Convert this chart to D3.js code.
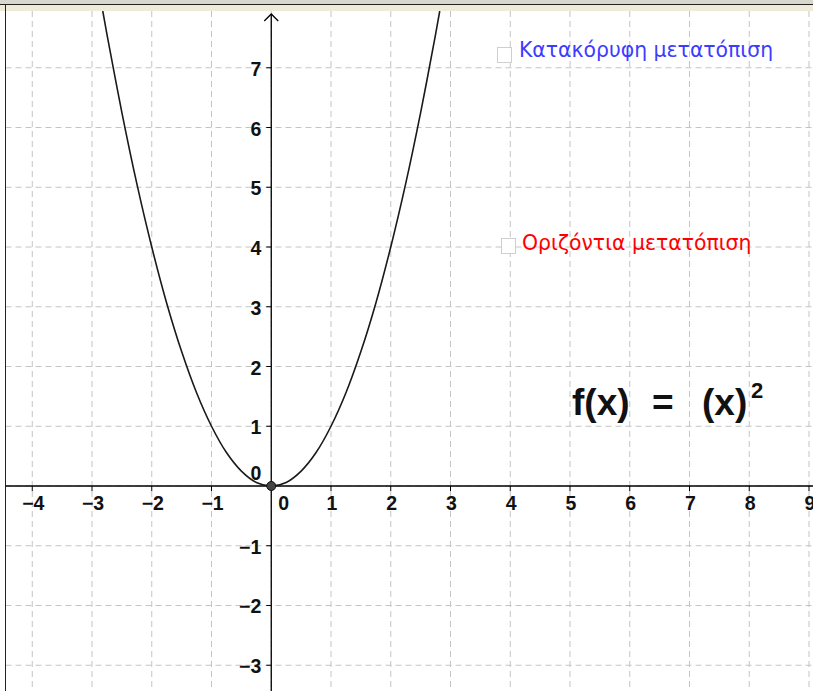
<!DOCTYPE html>
<html>
<head>
<meta charset="utf-8">
<script src="https://cdn.jsdelivr.net/npm/d3@7"></script>
<style>
  html, body { margin: 0; padding: 0; background: #fff; }
  svg { display: block; }
</style>
</head>
<body>
<svg id="chart" width="813" height="691"></svg>
<script>
// values
const xTicks = [-4, -3, -2, -1, 1, 2, 3, 4, 5, 6, 7, 8, 9];
const yTicks = [-3, -2, -1, 1, 2, 3, 4, 5, 6, 7];
const curveX = [-2.82, -2.75, -2.5, -2.25, -2, -1.75, -1.5, -1.25, -1, -0.75, -0.5, -0.25, 0,
                0.25, 0.5, 0.75, 1, 1.25, 1.5, 1.75, 2, 2.25, 2.5, 2.75, 2.82];
const curveY = [7.95, 7.56, 6.25, 5.06, 4, 3.06, 2.25, 1.56, 1, 0.56, 0.25, 0.06, 0,
                0.06, 0.25, 0.56, 1, 1.56, 2.25, 3.06, 4, 5.06, 6.25, 7.56, 7.95];
const checkLabels = ['Κατακόρυφη μετατόπιση', 'Οριζόντια μετατόπιση'];
const checkColors = ['#3c3cff', '#ff0000'];

const W = 813, H = 691;
const plotTop = 11, plotLeft = 5.5;
const svg = d3.select('#chart');

const x = d3.scaleLinear().domain([-4.54, 9.067]).range([0, W]);
const y = d3.scaleLinear().domain([8.134, -3.431]).range([0, H]);

svg.append('defs').append('clipPath').attr('id', 'plot')
  .append('rect').attr('x', plotLeft).attr('y', plotTop)
  .attr('width', W - plotLeft).attr('height', H - plotTop);

const g = svg.append('g').attr('clip-path', 'url(#plot)');

// grid
const gridX = [...xTicks, 0];
const gridY = [...yTicks, 0];
g.selectAll('.vgrid').data(gridX).enter().append('line')
  .attr('x1', d => x(d)).attr('x2', d => x(d))
  .attr('y1', plotTop).attr('y2', H)
  .attr('stroke', '#c4c4c4').attr('stroke-dasharray', '6,4');
g.selectAll('.hgrid').data(gridY).enter().append('line')
  .attr('y1', d => y(d)).attr('y2', d => y(d))
  .attr('x1', plotLeft).attr('x2', W)
  .attr('stroke', '#c4c4c4').attr('stroke-dasharray', '6,4');

// axes
g.append('line').attr('x1', plotLeft).attr('x2', W)
  .attr('y1', y(0)).attr('y2', y(0)).attr('stroke', '#000').attr('stroke-width', 1.3);
g.append('line').attr('x1', x(0)).attr('x2', x(0))
  .attr('y1', plotTop + 3).attr('y2', H).attr('stroke', '#000').attr('stroke-width', 1.3);
g.append('path')
  .attr('d', `M${x(0) - 7},${plotTop + 10}L${x(0)},${plotTop + 3}L${x(0) + 7},${plotTop + 10}`)
  .attr('fill', 'none').attr('stroke', '#000').attr('stroke-width', 1.3);

// ticks
g.selectAll('.xt').data(xTicks).enter().append('line')
  .attr('x1', d => x(d)).attr('x2', d => x(d))
  .attr('y1', y(0)).attr('y2', y(0) + 5).attr('stroke', '#000');
g.selectAll('.yt').data(yTicks).enter().append('line')
  .attr('y1', d => y(d)).attr('y2', d => y(d))
  .attr('x1', x(0) - 5).attr('x2', x(0)).attr('stroke', '#000');

const fmt = d => d < 0 ? '\u2212' + Math.abs(d) : String(d);
const labelFont = 'Liberation Sans, Arial, sans-serif';
const labelSize = 19.5;

g.selectAll('.xl').data(xTicks).enter().append('text')
  .attr('x', d => x(d) + 1).attr('y', y(0) + 24)
  .attr('text-anchor', 'middle')
  .attr('font-family', labelFont).attr('font-size', labelSize).attr('font-weight', 'bold')
  .attr('fill', '#111').text(fmt);
g.selectAll('.yl').data(yTicks).enter().append('text')
  .attr('x', x(0) - 10).attr('y', d => y(d) + 8)
  .attr('text-anchor', 'end')
  .attr('font-family', labelFont).attr('font-size', labelSize).attr('font-weight', 'bold')
  .attr('fill', '#111').text(fmt);
// origin labels
g.append('text').attr('x', x(0) + 7).attr('y', y(0) + 24)
  .attr('font-family', labelFont).attr('font-size', labelSize).attr('font-weight', 'bold')
  .attr('fill', '#111').text('0');
g.append('text').attr('x', x(0) - 10).attr('y', y(0) - 6).attr('text-anchor', 'end')
  .attr('font-family', labelFont).attr('font-size', labelSize).attr('font-weight', 'bold')
  .attr('fill', '#111').text('0');

// curve
const pts = curveX.map((v, i) => [v, curveY[i]]);
g.append('path').datum(pts)
  .attr('fill', 'none').attr('stroke', '#1a1a1a').attr('stroke-width', 1.6)
  .attr('d', d3.line().x(d => x(d[0])).y(d => y(d[1])).curve(d3.curveCatmullRom));

g.append('circle').attr('cx', x(0)).attr('cy', y(0)).attr('r', 4.5)
  .attr('fill', '#444').attr('stroke', '#111').attr('stroke-width', 1);

// checkboxes
const boxes = [{ bx: 497, by: 47, tx: 519, ty: 57 }, { bx: 501, by: 238, tx: 522, ty: 250 }];
boxes.forEach((b, i) => {
  svg.append('rect').attr('x', b.bx + 0.5).attr('y', b.by + 0.5).attr('width', 14).attr('height', 15)
    .attr('fill', '#fff').attr('stroke', '#cfcfcf');
  svg.append('text').attr('x', b.tx).attr('y', b.ty)
    .attr('font-family', 'DejaVu Sans, sans-serif').attr('font-size', 20.4)
    .attr('fill', checkColors[i]).text(checkLabels[i]);
});

// formula
const ff = 'Liberation Sans, Arial, sans-serif';
const fx = svg.append('g').attr('font-family', ff).attr('font-weight', 'bold').attr('fill', '#111');
fx.append('text').attr('x', 572).attr('y', 415).attr('font-size', 37).text('f(x)');
fx.append('text').attr('x', 652).attr('y', 415).attr('font-size', 37).text('=');
fx.append('text').attr('x', 702).attr('y', 415).attr('font-size', 37).text('(x)');
fx.append('text').attr('x', 751).attr('y', 398).attr('font-size', 22).text('2');

// window frame
svg.append('rect').attr('x', 0).attr('y', 0).attr('width', W).attr('height', 4).attr('fill', '#d9d6cc');
svg.append('rect').attr('x', 0).attr('y', 5).attr('width', W).attr('height', 6).attr('fill', '#eeebd8');
svg.append('line').attr('x1', 0).attr('x2', W).attr('y1', 4.5).attr('y2', 4.5).attr('stroke', '#222');
svg.append('line').attr('x1', plotLeft).attr('x2', plotLeft).attr('y1', 4).attr('y2', H).attr('stroke', '#222');
</script>
</body>
</html>
